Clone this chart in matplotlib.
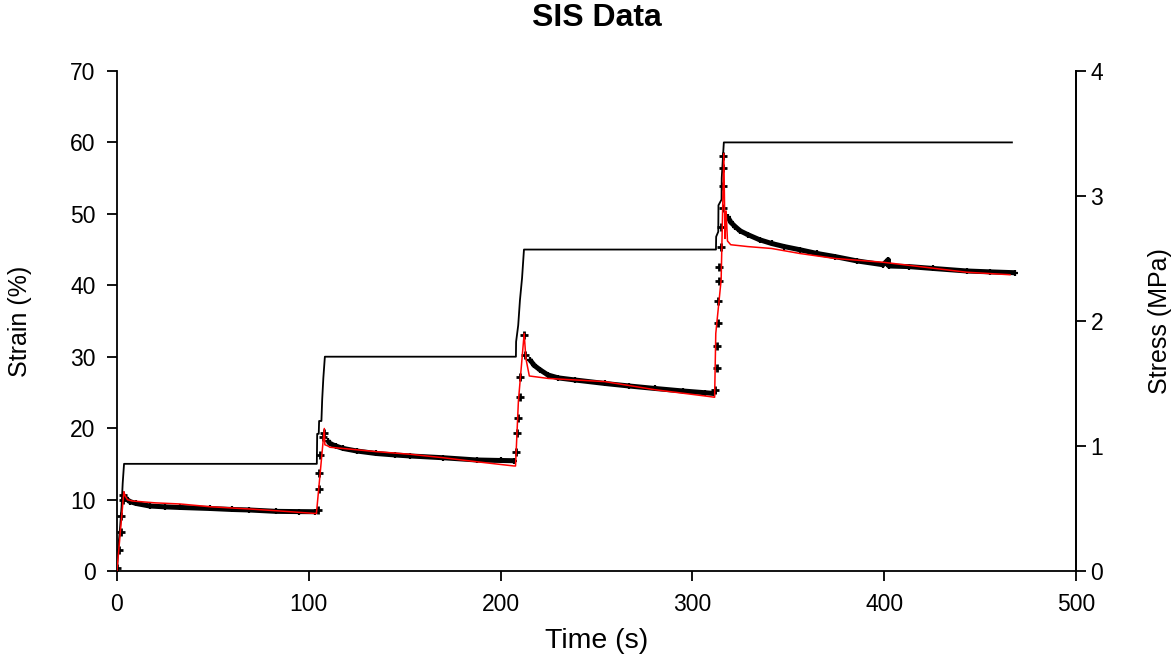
import matplotlib
matplotlib.use('Agg')
import matplotlib.pyplot as plt

plt.rcParams['font.family'] = ['Liberation Sans', 'DejaVu Sans']

# applied strain history (%)
strain_time = [0, 0.6, 1.6, 2.4, 3.0, 3.7,
               104.2, 104.4, 105.2, 105.4, 106.6, 107.0, 107.6, 108.4,
               208.0, 208.1, 209.2, 210.1, 211.2, 212.2,
               312.3, 312.4, 313.5, 313.6, 315.2, 315.3, 316.4, 466.6]
strain_pct = [0, 3, 6, 9, 12.3, 15,
              15, 19.2, 19.2, 21, 21, 24, 27, 30,
              30, 32.1, 34.4, 37.9, 41, 45,
              45, 46.8, 47.5, 51.2, 52, 55, 60, 60]

# measured stress while the strain is being stepped up (MPa)
ramp_time = [0.0, 1.0, 1.9, 2.2, 3.0, 3.4,
             104.6, 105.2, 105.4, 105.8, 107.2, 107.8,
             207.8, 208.5, 209.2, 210.1, 210.2, 212.2, 212.8,
             312.0, 312.6, 312.8, 313.2, 313.5, 313.8, 314.0, 314.8,
             315.0, 316.0, 316.2, 316.0, 316.2]
ramp_stress = [0.02, 0.17, 0.31, 0.44, 0.57, 0.61,
               0.49, 0.654, 0.786, 0.928, 1.074, 1.106,
               0.95, 1.10, 1.22, 1.39, 1.555, 1.888, 1.728,
               1.45, 1.62, 1.80, 1.98, 2.16, 2.32, 2.43, 2.59,
               2.75, 2.90, 3.08, 3.226, 3.32]

# measured stress during each hold (MPa)
relax_time = [
    [4.5, 6.8, 10, 17, 25, 33, 48.5, 60, 69, 83, 95, 103.5],
    [110, 111, 114, 118, 125, 135, 145, 153, 170, 187.5, 200, 207],
    [215.3, 217.5, 220.5, 224.7, 230, 238.8, 254.4, 267, 280.5, 295, 306.6, 311.3],
    [318.6, 320, 322.3, 325, 329, 335, 341.3, 348, 356, 365, 374.4, 386,
     399.4, 402.1, 402.5, 413, 425.6, 443, 455, 468.2],
]
relax_stress = [
    [0.58, 0.555, 0.54, 0.52, 0.513, 0.508, 0.50, 0.492, 0.488, 0.477, 0.475, 0.474],
    [1.04, 1.02, 1.0, 0.98, 0.96, 0.94, 0.928, 0.92, 0.906, 0.888, 0.884, 0.882],
    [1.69, 1.645, 1.61, 1.568, 1.545, 1.528, 1.50, 1.48, 1.46, 1.44, 1.426, 1.42],
    [2.83, 2.79, 2.755, 2.72, 2.69, 2.65, 2.62, 2.595, 2.57, 2.54, 2.515, 2.48,
     2.45, 2.49, 2.44, 2.435, 2.42, 2.40, 2.393, 2.386],
]

# model prediction (MPa)
model_time = [0, 3.6, 4.3, 5.5, 8, 20, 33, 48.5, 69, 83, 103.5,
              104.0, 108.1, 108.4, 110, 111, 135, 152.8, 170, 187.5, 207,
              207.8, 209.3, 212.3, 213.2, 215, 225, 254.4, 280.5, 306.6, 311.5,
              311.6, 312.2, 315.0, 316.4, 317.0, 317.6, 318.3, 320, 329, 341.3,
              356, 374.4, 399.4, 443, 465.6]
model_stress = [0, 0.634, 0.60, 0.57, 0.56, 0.545, 0.536, 0.514, 0.496, 0.482, 0.46,
                0.46, 1.14, 1.01, 1.0, 0.99, 0.955, 0.934, 0.906, 0.874, 0.84,
                0.84, 1.36, 1.90, 1.70, 1.56, 1.54, 1.515, 1.45, 1.40, 1.39,
                1.39, 1.9, 2.33, 3.34, 2.66, 2.88, 2.64, 2.61, 2.595, 2.58,
                2.54, 2.50, 2.47, 2.39, 2.37]

fig = plt.figure(figsize=(11.73, 6.56), dpi=100)
ax = fig.add_axes([0.0997, 0.1296, 0.8176, 0.7622])
ax2 = ax.twinx()

ax.plot(strain_time, strain_pct, color='black', lw=1.3, zorder=2)

for t, s in zip(relax_time, relax_stress):
    ax2.plot(t, s, color='black', lw=3.6, solid_capstyle='butt', zorder=3)
    ax2.plot(t, s, ls='none', marker='+', ms=5, mew=1.6, color='black', zorder=3)
ax2.plot(ramp_time, ramp_stress, ls='none', marker='+', ms=6, mew=2, color='black', zorder=3)
ax2.plot(model_time, model_stress, color='red', lw=1.1, zorder=4)

ax.set_xlim(0, 500)
ax.set_ylim(0, 70)
ax2.set_ylim(0, 4)
ax.set_xticks(range(0, 501, 100))
ax.set_yticks(range(0, 71, 10))
ax2.set_yticks(range(0, 5))

for a in (ax, ax2):
    a.spines['top'].set_visible(False)
    for sp in a.spines.values():
        sp.set_linewidth(1.3)
    a.tick_params(direction='out', length=7.5, width=1.3, labelsize=16.5)
ax2.spines['left'].set_visible(False)
ax2.spines['bottom'].set_visible(False)
ax.tick_params(axis='x', pad=8)
ax.tick_params(axis='y', pad=8)
ax2.tick_params(axis='y', pad=3)

ax.set_xlabel('Time (s)', fontsize=20.5)
ax.set_ylabel('Strain (%)', fontsize=18)
ax2.set_ylabel('Stress (MPa)', fontsize=18)
ax.xaxis.set_label_coords(0.5, -0.14)
ax.yaxis.set_label_coords(-0.101, 0.5)
ax2.yaxis.set_label_coords(1.0876, 0.5)
for lab in (ax.xaxis.label, ax.yaxis.label, ax2.yaxis.label):
    lab.set_verticalalignment('center')
    lab.set_horizontalalignment('center')

fig.text(0.5085, 1 - 18 / 656, 'SIS Data', fontsize=23, fontweight='bold',
         ha='center', va='center')

fig.savefig('out.png', dpi=100)
